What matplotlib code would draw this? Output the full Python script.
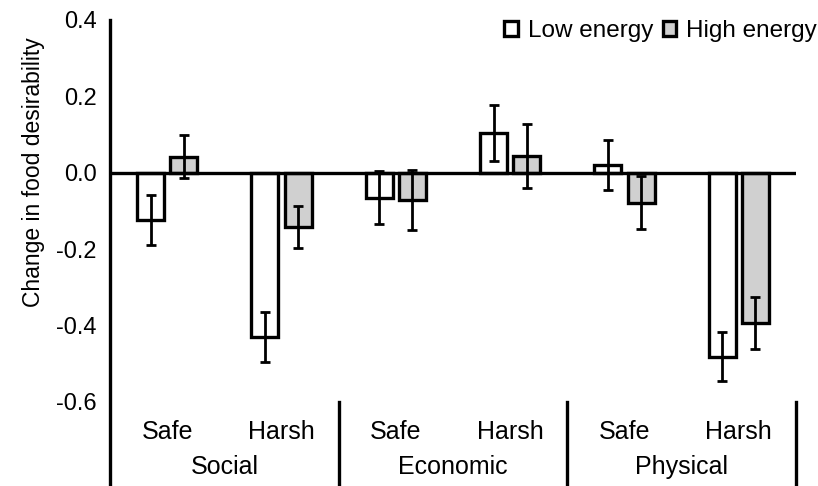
import matplotlib.pyplot as plt
from matplotlib.patches import Patch

plt.rcParams.update({
    "font.family": ["Liberation Sans", "DejaVu Sans"],
    "font.size": 16,
})

GROUPS = ["Social", "Economic", "Physical"]
CONDITIONS = ["Safe", "Harsh"]
SERIES = ["Low energy", "High energy"]

# order: Social Safe, Social Harsh, Economic Safe, Economic Harsh, Physical Safe, Physical Harsh
LOW_MEAN = [-0.123, -0.430, -0.065, 0.104, 0.021, -0.482]
LOW_ERR = [0.065, 0.066, 0.070, 0.073, 0.066, 0.064]
HIGH_MEAN = [0.042, -0.143, -0.071, 0.045, -0.078, -0.393]
HIGH_ERR = [0.056, 0.055, 0.078, 0.084, 0.070, 0.068]

YTICKS = [-0.6, -0.4, -0.2, 0.0, 0.2, 0.4]

FILL = {"Low energy": "white", "High energy": "#d0d0d0"}
BAR_W = 0.237
OFFSET = 0.145
LW = 2.4

fig = plt.figure(figsize=(8.18, 4.86), dpi=100)
ax = fig.add_axes([110 / 818, 0.0, (796 - 110) / 818, 466 / 486])

n = len(LOW_MEAN)
centers = [i + 0.5 for i in range(n)]
for means, errs, name, sign in ((LOW_MEAN, LOW_ERR, "Low energy", -1),
                                (HIGH_MEAN, HIGH_ERR, "High energy", 1)):
    xs = [c + sign * OFFSET for c in centers]
    ax.bar(xs, means, width=BAR_W, color=FILL[name], edgecolor="black",
           linewidth=LW, zorder=2)
    ax.errorbar(xs, means, yerr=errs, fmt="none", ecolor="black",
                elinewidth=2.0, capsize=3.6, capthick=2.0, zorder=3)

ax.axhline(0, color="black", linewidth=2.4, zorder=4)

ax.set_xlim(0, n)
ax.set_ylim(-0.82, 0.4)
ax.set_yticks(YTICKS)
ax.set_yticklabels([f"{v:.1f}" for v in YTICKS])
ax.tick_params(axis="y", length=0, pad=9.5, labelsize=17)
ax.set_xticks([])
for side in ("top", "right", "bottom"):
    ax.spines[side].set_visible(False)
ax.spines["left"].set_linewidth(2.4)

ax.set_ylabel("Change in food desirability", fontsize=16.5)
ax.yaxis.set_label_coords(-0.095, 0.674)

# two-level category axis below the plot
for i, c in enumerate(centers):
    ax.text(c, -0.678, CONDITIONS[i % 2], ha="center", va="center", fontsize=18)
for g, name in enumerate(GROUPS):
    ax.text(2 * g + 1, -0.77, name, ha="center", va="center", fontsize=18)
    ax.plot([2 * g + 2, 2 * g + 2], [-0.6, -0.82], color="black",
            linewidth=2.4, clip_on=False)

handles = [Patch(facecolor=FILL[s], edgecolor="black", linewidth=LW, label=s)
           for s in SERIES]
fig.legend(handles=handles, loc="upper right", bbox_to_anchor=(1.013, 0.984),
           ncol=2, frameon=False, fontsize=17.5, handlelength=0.55,
           handleheight=0.55, handletextpad=0.4, columnspacing=0.4,
           borderaxespad=0.1)

fig.savefig("out.png", dpi=100)
